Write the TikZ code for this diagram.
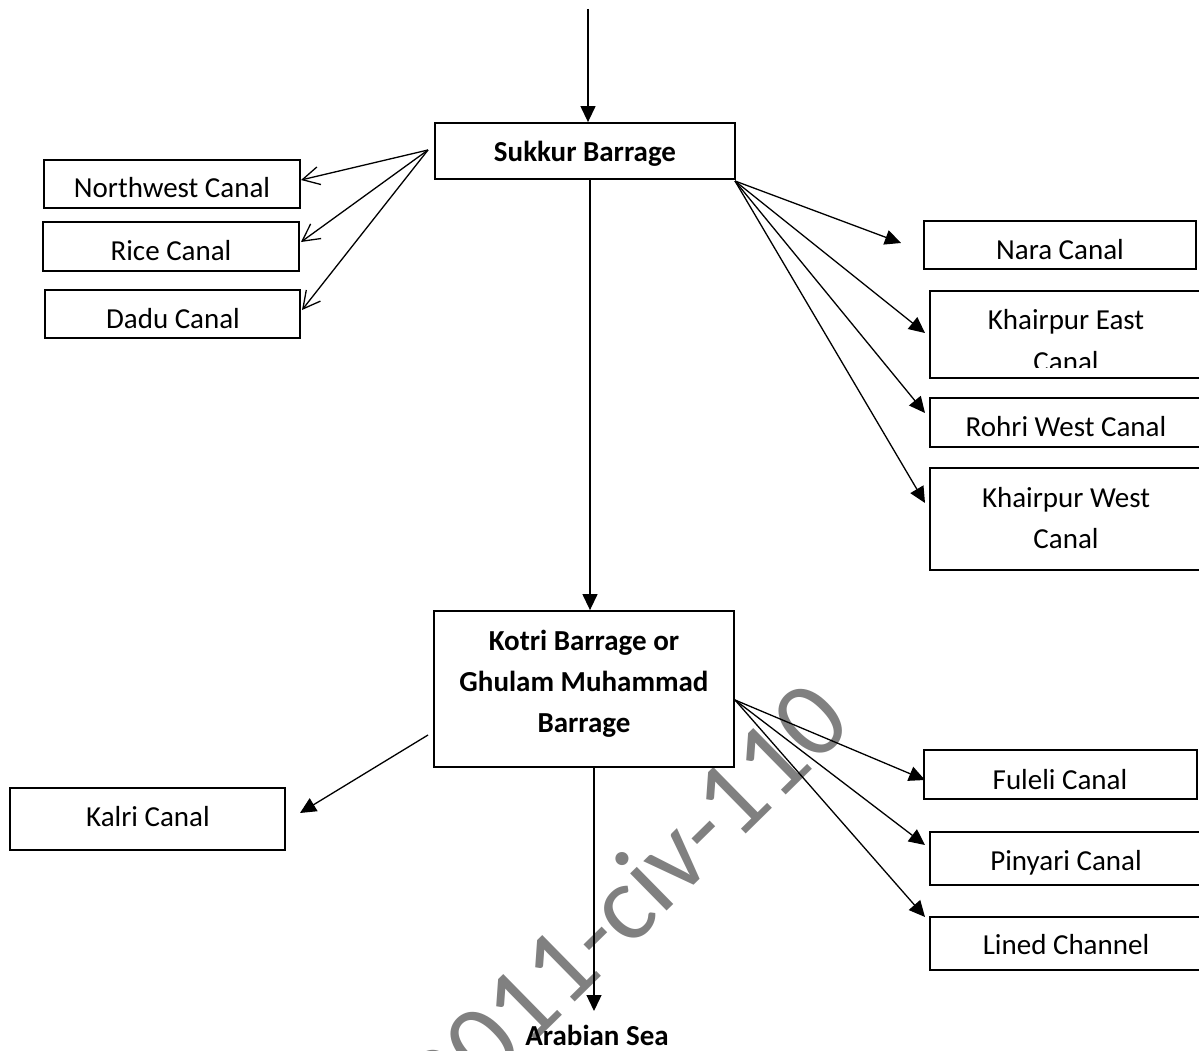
\documentclass[tikz,border=0pt]{standalone}
\usepackage{fontspec}
\setmainfont{Carlito}
\usetikzlibrary{arrows.meta}
\begin{document}
\begin{tikzpicture}[x=1pt,y=-1pt,
  box/.style={draw=black,line width=1.8pt,inner sep=0pt,rectangle},
  txt/.style={anchor=base,inner sep=0pt,font=\fontsize{29}{40}\selectfont,align=center},
  btxt/.style={txt,font=\fontsize{29}{41}\selectfont\bfseries},
  conn/.style={line width=1.3pt},
  fill arrow/.style={conn,-{Triangle[length=16pt,width=15pt]}},
  open arrow/.style={conn,-{Straight Barb[length=17pt,width=18pt,line width=1.3pt]}}
]
\clip (0,0) rectangle (1199,1051);
\fill[white] (0,0) rectangle (1199,1051);

% watermark
\node[rotate=44.5,anchor=base west,text=black!50,font=\fontsize{109}{109}\selectfont,inner sep=0pt] (wm) at (447.5,1127.6) {2011-civ-110};

% boxes
\node[box,minimum width=256pt,minimum height=48pt] (nw) at (172,184) {};
\node[box,minimum width=256pt,minimum height=49pt] (rice) at (171,246.5) {};
\node[box,minimum width=255pt,minimum height=48pt] (dadu) at (172.5,314) {};
\node[box,minimum width=275pt,minimum height=62pt] (kalri) at (147.5,819) {};
\node[box,minimum width=300pt,minimum height=56pt] (sukkur) at (585,151) {};
\node[box,minimum width=300pt,minimum height=156pt] (kotri) at (584,689) {};
\node[box,minimum width=272pt,minimum height=48pt] (nara) at (1060,245) {};
\node[box,minimum width=280pt,minimum height=87pt] (ke) at (1070,334.5) {};
\node[box,minimum width=280pt,minimum height=49pt] (rohri) at (1070,422.5) {};
\node[box,minimum width=280pt,minimum height=102pt] (kw) at (1070,519) {};
\node[box,minimum width=273pt,minimum height=49pt] (fuleli) at (1060.5,774.5) {};
\node[box,minimum width=280pt,minimum height=53pt] (pinyari) at (1070,858.5) {};
\node[box,minimum width=280pt,minimum height=53pt] (lined) at (1070,943.5) {};

% texts
\node[btxt] (tsukkur) at (585,162) {Sukkur Barrage};
\node[txt] (tnw) at (172,198) {Northwest Canal};
\node[txt] (trice) at (171,260) {Rice Canal};
\node[txt] (tdadu) at (173,328) {Dadu Canal};
\node[txt] (tnara) at (1060,259) {Nara Canal};
\node[txt] (tke1) at (1066,329) {Khairpur East};
\begin{scope}
  \clip (930,340) rectangle (1199,367);
  \node[txt] (tke2) at (1066,371) {Canal};
\end{scope}
\node[txt] (trohri) at (1066,436) {Rohri West Canal};
\node[txt] (tkw1) at (1066,507) {Khairpur West};
\node[txt] (tkw2) at (1066,548) {Canal};
\node[btxt] (tk1) at (584,650) {Kotri Barrage or};
\node[btxt] (tk2) at (584,691) {Ghulam Muhammad};
\node[btxt] (tk3) at (584,732) {Barrage};
\node[btxt] (tsea) at (597,1045) {Arabian Sea};
\node[txt] (tkalri) at (148,826) {Kalri Canal};
\node[txt] (tfuleli) at (1060,789) {Fuleli Canal};
\node[txt] (tpinyari) at (1066,870) {Pinyari Canal};
\node[txt] (tlined) at (1066,954) {Lined Channel};

% connector ends
\coordinate (src) at (588,9);
\coordinate (sbL) at (428,150);
\coordinate (sbR) at (735,181);
\coordinate (kbL) at (428,735);
\coordinate (kbR) at (735,700);
\coordinate (tipNW) at (301,180);
\coordinate (tipRice) at (301,242);
\coordinate (tipDadu) at (302,310);
\coordinate (tipNara) at (901,243);
\coordinate (tipKE) at (925,333);
\coordinate (tipRohri) at (925,413);
\coordinate (tipKW) at (925,503);
\coordinate (tipKalri) at (300,813);
\coordinate (tipFuleli) at (925,780);
\coordinate (tipPinyari) at (925,845);
\coordinate (tipLined) at (925,917);
\coordinate (tipSea) at (594,1011);

% connectors
\draw[fill arrow] (src) -- (src |- sukkur.north);
\draw[fill arrow] (sukkur.south -| 590,0) -- (kotri.north -| 590,0);
\draw[fill arrow] (kotri.south -| 594,0) -- (tipSea);

\draw[open arrow] (sbL) -- (tipNW);
\draw[open arrow] (sbL) -- (tipRice);
\draw[open arrow] (sbL) -- (tipDadu);

\draw[fill arrow] (sbR) -- (tipNara);
\draw[fill arrow] (sbR) -- (tipKE);
\draw[fill arrow] (sbR) -- (tipRohri);
\draw[fill arrow] (sbR) -- (tipKW);

\draw[fill arrow] (kbL) -- (tipKalri);
\draw[fill arrow] (kbR) -- (tipFuleli);
\draw[fill arrow] (kbR) -- (tipPinyari);
\draw[fill arrow] (kbR) -- (tipLined);
\end{tikzpicture}
\end{document}
